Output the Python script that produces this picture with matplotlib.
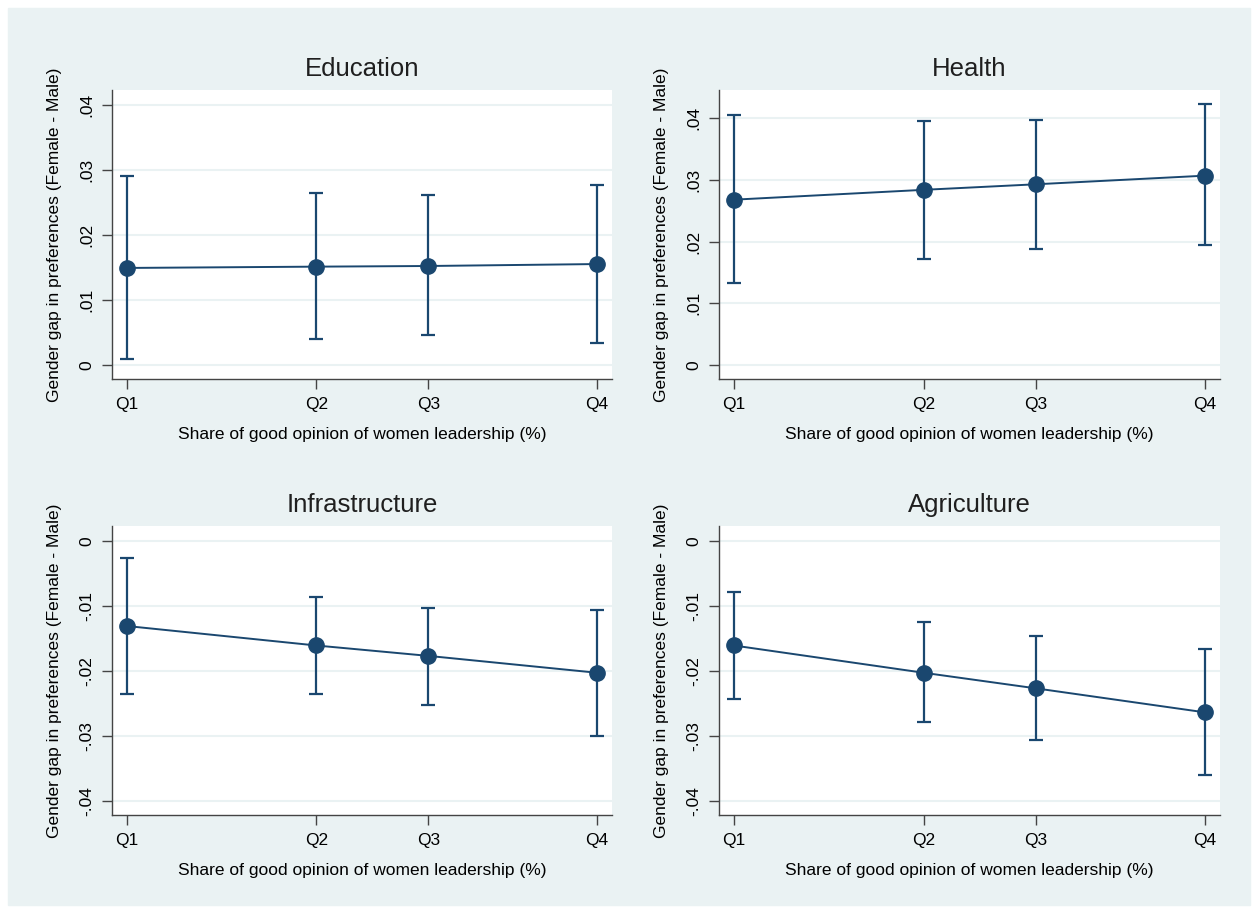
import matplotlib.pyplot as plt
from matplotlib.patches import Rectangle

plt.rcParams['font.family'] = ['Liberation Sans', 'DejaVu Sans']

# x positions of quartiles (unevenly spaced as in the source)
xpos = [0.0, 0.403, 0.641, 1.0]
xlabels = ["Q1", "Q2", "Q3", "Q4"]

edu_est = [0.0149, 0.0151, 0.0152, 0.0155]
edu_hi = [0.0290, 0.0264, 0.0261, 0.0277]
edu_lo = [0.0009, 0.0039, 0.0045, 0.0033]

hea_est = [0.0268, 0.0284, 0.0293, 0.0307]
hea_hi = [0.0405, 0.0395, 0.0398, 0.0423]
hea_lo = [0.0132, 0.0172, 0.0188, 0.0194]

inf_est = [-0.0131, -0.0161, -0.0177, -0.0203]
inf_hi = [-0.0027, -0.0086, -0.0103, -0.0106]
inf_lo = [-0.0235, -0.0236, -0.0253, -0.0300]

agr_est = [-0.0161, -0.0203, -0.0227, -0.0264]
agr_hi = [-0.0078, -0.0125, -0.0146, -0.0167]
agr_lo = [-0.0244, -0.0279, -0.0306, -0.0361]

pos_ticks = [0, 0.01, 0.02, 0.03, 0.04]
neg_ticks = [0, -0.01, -0.02, -0.03, -0.04]

navy = "#1a476f"
bg = "#eaf2f3"

W, H = 1258, 913
fig = plt.figure(figsize=(W / 100, H / 100), dpi=100)
fig.patches.append(Rectangle((8 / W, 8 / H), 1 - 16 / W, 1 - 16 / H,
                             transform=fig.transFigure, color=bg, zorder=-10))


def fmt(v):
    if v == 0:
        return "0"
    s = f"{v:.2f}"
    return s.replace("0.", ".")


panels = [
    ("Education", edu_est, edu_lo, edu_hi, pos_ticks, (-0.0022, 0.0423), (112, 90, 612, 379)),
    ("Health", hea_est, hea_lo, hea_hi, pos_ticks, (-0.0023, 0.0446), (719, 90, 1220, 379)),
    ("Infrastructure", inf_est, inf_lo, inf_hi, neg_ticks, (-0.0422, 0.0023), (112, 526, 612, 815)),
    ("Agriculture", agr_est, agr_lo, agr_hi, neg_ticks, (-0.0422, 0.0023), (719, 526, 1220, 815)),
]

for title, est, lo, hi, ticks, ylim, (x0, y0, x1, y1) in panels:
    ax = fig.add_axes([x0 / W, 1 - y1 / H, (x1 - x0) / W, (y1 - y0) / H])
    ax.set_facecolor("white")
    for t in ticks:
        ax.axhline(t, color=bg, lw=1.5, zorder=0)
    yerr = [[e - l for e, l in zip(est, lo)], [h - e for e, h in zip(est, hi)]]
    ax.errorbar(xpos, est, yerr=yerr, fmt="none", ecolor=navy, elinewidth=1.6,
                capsize=5, capthick=1.6, zorder=2)
    ax.plot(xpos, est, color=navy, lw=1.4, marker="o", markersize=11, zorder=3)
    ax.set_xlim(-0.0315, 1.0315)
    ax.set_ylim(*ylim)
    ax.set_xticks(xpos)
    ax.set_xticklabels(xlabels, fontsize=12.5)
    ax.set_yticks(ticks)
    ax.set_yticklabels([fmt(t) for t in ticks], fontsize=12.5, rotation=90, va="center")
    ax.tick_params(direction="out", length=7, color="#444444", width=1, pad=6)
    for s in ["top", "right"]:
        ax.spines[s].set_visible(False)
    for s in ["left", "bottom"]:
        ax.spines[s].set_color("#444444")
        ax.spines[s].set_linewidth(1)
    ax.set_title(title, fontsize=18.5, color="#1f1f1f", pad=10)
    ax.set_xlabel("Share of good opinion of women leadership (%)", fontsize=12.5, labelpad=11)
    ax.set_ylabel("Gender gap in preferences (Female - Male)", fontsize=12.5, labelpad=12)

fig.savefig("out.png", dpi=100)
